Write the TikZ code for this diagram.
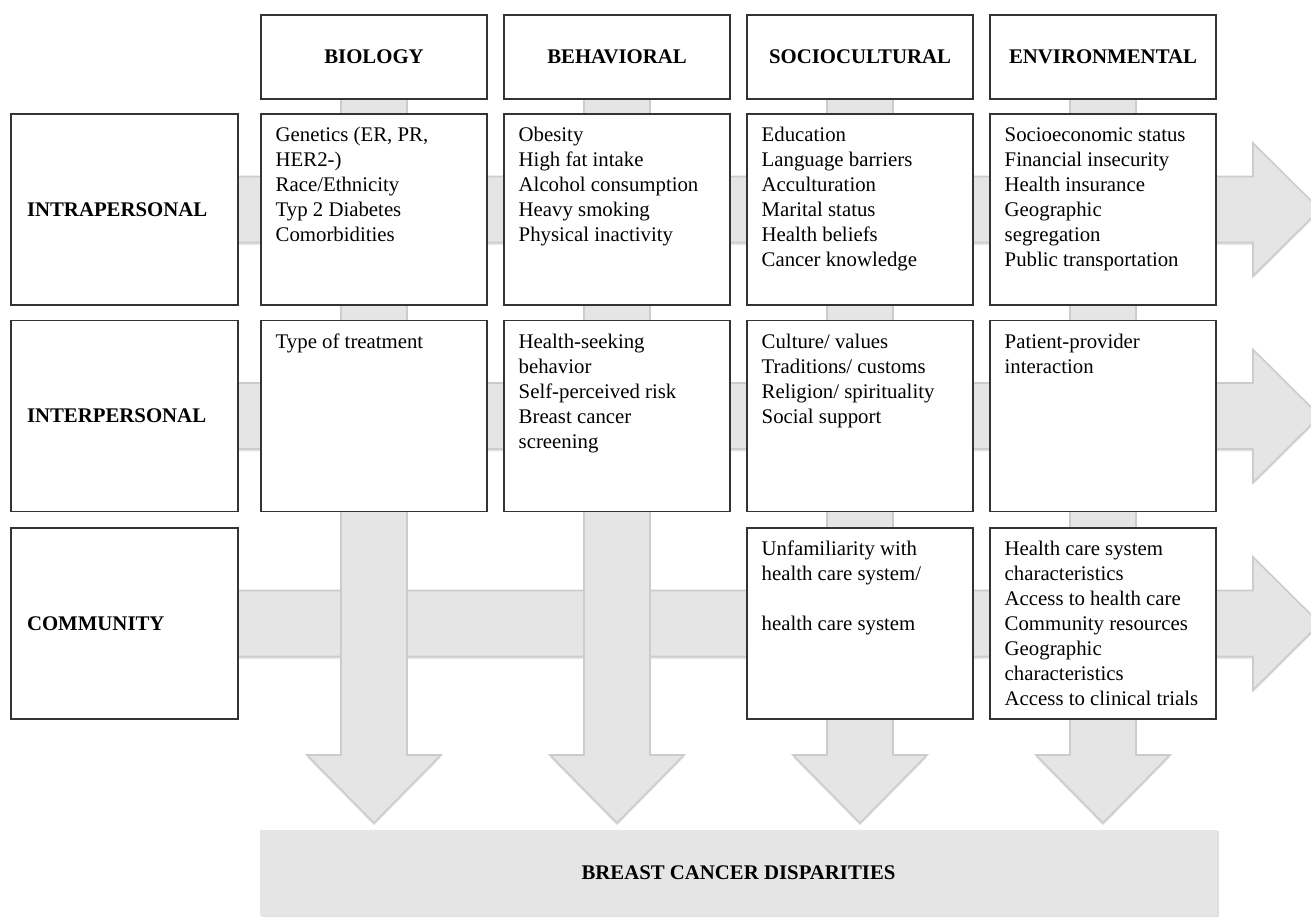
\documentclass[tikz,border=0pt]{standalone}
\usepackage{fontspec}
\setmainfont{Liberation Serif}
\usetikzlibrary{backgrounds,shadows}

\begin{document}
\begin{tikzpicture}[x=0.5pt,y=-0.5pt,
  hdr/.style={draw=black!80,line width=.7pt,fill=white,minimum width=113pt,minimum height=42pt,font=\fontsize{10.4}{12.5}\selectfont\bfseries},
  lvl/.style={draw=black!80,line width=.7pt,fill=white,minimum width=113.5pt,minimum height=95.5pt,inner xsep=8pt,text width=97.5pt,align=left,font=\fontsize{10.4}{12.5}\selectfont\bfseries},
  cell/.style={draw=black!80,line width=.7pt,fill=white,minimum width=113pt,minimum height=95.5pt},
  txt/.style={anchor=north west,inner sep=0pt,align=left,font=\fontsize{10.4}{12.5}\selectfont},
  bar/.style={fill=black!10,draw=black!20,line width=.8pt,drop shadow={shadow xshift=0pt,shadow yshift=-1.2pt,opacity=.2}},
  outbox/.style={fill=black!10,minimum width=478.5pt,minimum height=43pt,font=\fontsize{10.4}{12.5}\selectfont\bfseries,drop shadow={shadow xshift=1.2pt,shadow yshift=-.6pt,opacity=.25}}]
\useasboundingbox (0,0) rectangle (1311,917);
% column heads
\node[hdr] (bio) at (374,57) {BIOLOGY};
\node[hdr] (beh) at (617,57) {BEHAVIORAL};
\node[hdr] (soc) at (860,57) {SOCIOCULTURAL};
\node[hdr] (env) at (1103,57) {ENVIRONMENTAL};
% levels
\node[lvl] (intra) at (124.5,209.5) {INTRAPERSONAL};
\node[lvl] (inter) at (124.5,416) {INTERPERSONAL};
\node[lvl] (comm) at (124.5,623.5) {COMMUNITY};
% factor cells
\node[cell] (bio1) at (374,209.5) {};
\node[cell] (beh1) at (617,209.5) {};
\node[cell] (soc1) at (860,209.5) {};
\node[cell] (env1) at (1103,209.5) {};
\node[cell] (bio2) at (374,416) {};
\node[cell] (beh2) at (617,416) {};
\node[cell] (soc2) at (860,416) {};
\node[cell] (env2) at (1103,416) {};
\node[cell] (soc3) at (860,623.5) {};
\node[cell] (env3) at (1103,623.5) {};
\node[txt] at ([shift={(15,10.5)}]bio1.north west) {\strut Genetics (ER, PR,\\HER2-)\\Race/Ethnicity\\Typ 2 Diabetes\\Comorbidities};
\node[txt] at ([shift={(15,10.5)}]beh1.north west) {\strut Obesity\\High fat intake\\Alcohol consumption\\Heavy smoking\\Physical inactivity};
\node[txt] at ([shift={(15,10.5)}]soc1.north west) {\strut Education\\Language barriers\\Acculturation\\Marital status\\Health beliefs\\Cancer knowledge};
\node[txt] at ([shift={(15,10.5)}]env1.north west) {\strut Socioeconomic status\\Financial insecurity\\Health insurance\\Geographic\\segregation\\Public transportation};
\node[txt] at ([shift={(15,10.5)}]bio2.north west) {\strut Type of treatment};
\node[txt] at ([shift={(15,10.5)}]beh2.north west) {\strut Health-seeking\\behavior\\Self-perceived risk\\Breast cancer\\screening};
\node[txt] at ([shift={(15,10.5)}]soc2.north west) {\strut Culture/ values\\Traditions/ customs\\Religion/ spirituality\\Social support};
\node[txt] at ([shift={(15,10.5)}]env2.north west) {\strut Patient-provider\\interaction};
\node[txt] at ([shift={(15,10.5)}]soc3.north west) {\strut Unfamiliarity with\\health care system/\\[12.5pt]health care system};
\node[txt] at ([shift={(15,10.5)}]env3.north west) {\strut Health care system\\characteristics\\Access to health care\\Community resources\\Geographic\\characteristics\\Access to clinical trials};
% outcome
\node[outbox] (out) at (738.5,873) {BREAST CANCER DISPARITIES};
% big gray arrows behind the boxes
\begin{scope}[on background layer]
\foreach \n in {intra,inter,comm}
  \draw[bar] (\n.center) ++(0,-33) -- ++(1128.5,0) -- ++(0,-33.5) -- ++(67,66.5) -- ++(-67,66.5) -- ++(0,-33.5) -- ++(-1128.5,0) -- cycle;
\foreach \n in {bio,beh,soc,env}
  \draw[bar] (\n.center) ++(-33,0) -- ++(0,698) -- ++(-34,0) -- ++(67,68) -- ++(67,-68) -- ++(-34,0) -- ++(0,-698) -- cycle;
\end{scope}
\end{tikzpicture}
\end{document}
